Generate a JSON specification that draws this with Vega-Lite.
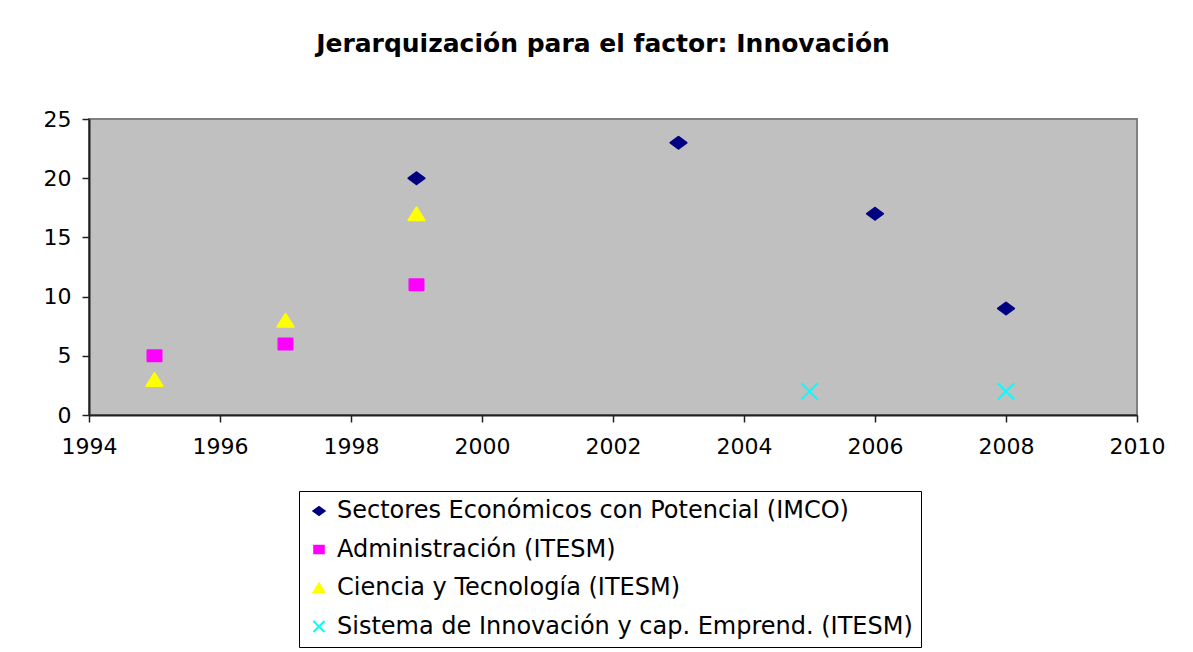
{
  "$schema": "https://vega.github.io/schema/vega-lite/v6.json",
  "width": 1048,
  "height": 296,
  "autosize": {"type": "none"},
  "padding": {"left": 89, "top": 119, "right": 56, "bottom": 237},
  "background": "white",
  "title": {
    "text": "Jerarquización para el factor: Innovación",
    "font": "DejaVu Sans",
    "fontSize": 25,
    "fontWeight": "bold",
    "color": "black",
    "anchor": "middle",
    "frame": "group",
    "dx": -10,
    "offset": 51
  },
  "data": {
    "values": [
      {"year": 1999, "rank": 20, "serie": "Sectores Económicos con Potencial (IMCO)"},
      {"year": 2003, "rank": 23, "serie": "Sectores Económicos con Potencial (IMCO)"},
      {"year": 2006, "rank": 17, "serie": "Sectores Económicos con Potencial (IMCO)"},
      {"year": 2008, "rank": 9, "serie": "Sectores Económicos con Potencial (IMCO)"},
      {"year": 1995, "rank": 5, "serie": "Administración (ITESM)"},
      {"year": 1997, "rank": 6, "serie": "Administración (ITESM)"},
      {"year": 1999, "rank": 11, "serie": "Administración (ITESM)"},
      {"year": 1995, "rank": 3, "serie": "Ciencia y Tecnología (ITESM)"},
      {"year": 1997, "rank": 8, "serie": "Ciencia y Tecnología (ITESM)"},
      {"year": 1999, "rank": 17, "serie": "Ciencia y Tecnología (ITESM)"},
      {"year": 2005, "rank": 2, "serie": "Sistema de Innovación y cap. Emprend. (ITESM)"},
      {"year": 2008, "rank": 2, "serie": "Sistema de Innovación y cap. Emprend. (ITESM)"}
    ]
  },
  "mark": {"type": "point", "filled": true, "opacity": 1, "size": 340, "strokeWidth": 2, "strokeJoin": "round"},
  "encoding": {
    "x": {
      "field": "year",
      "type": "quantitative",
      "scale": {"domain": [1994, 2010], "nice": false, "zero": false},
      "axis": {
        "title": null,
        "values": [1994, 1996, 1998, 2000, 2002, 2004, 2006, 2008, 2010],
        "format": "d",
        "grid": false,
        "domainColor": "#202020",
        "domainWidth": 2,
        "tickColor": "#202020",
        "tickWidth": 1.5,
        "tickSize": 7,
        "labelFont": "DejaVu Sans",
        "labelFontSize": 22,
        "labelColor": "black",
        "labelPadding": 14,
        "labelFlush": false
      }
    },
    "y": {
      "field": "rank",
      "type": "quantitative",
      "scale": {"domain": [0, 25], "nice": false},
      "axis": {
        "title": null,
        "values": [0, 5, 10, 15, 20, 25],
        "grid": false,
        "domainColor": "#202020",
        "domainWidth": 2,
        "tickColor": "#202020",
        "tickWidth": 1.5,
        "tickSize": 7,
        "labelFont": "DejaVu Sans",
        "labelFontSize": 22,
        "labelColor": "black",
        "labelPadding": 11
      }
    },
    "fill": {
      "field": "serie",
      "type": "nominal",
      "scale": {
        "domain": ["Sectores Económicos con Potencial (IMCO)", "Administración (ITESM)", "Ciencia y Tecnología (ITESM)", "Sistema de Innovación y cap. Emprend. (ITESM)"],
        "range": ["#000080", "#FF00FF", "#FFFF00", "#00FFFF"]
      },
      "legend": {
        "title": null,
        "orient": "none",
        "legendX": 210,
        "legendY": 372,
        "direction": "vertical",
        "labelFont": "DejaVu Sans",
        "labelFontSize": 24,
        "labelColor": "black",
        "labelLimit": 0,
        "labelOffset": 6,
        "symbolSize": 160,
        "symbolStrokeWidth": 2,
        "rowPadding": 14.5,
        "padding": 8,
        "strokeColor": "black",
        "fillColor": "white"
      }
    },
    "stroke": {
      "field": "serie",
      "type": "nominal",
      "scale": {
        "domain": ["Sectores Económicos con Potencial (IMCO)", "Administración (ITESM)", "Ciencia y Tecnología (ITESM)", "Sistema de Innovación y cap. Emprend. (ITESM)"],
        "range": ["#000080", "#FF00FF", "#FFFF00", "#00FFFF"]
      }
    },
    "shape": {
      "field": "serie",
      "type": "nominal",
      "scale": {
        "domain": ["Sectores Económicos con Potencial (IMCO)", "Administración (ITESM)", "Ciencia y Tecnología (ITESM)", "Sistema de Innovación y cap. Emprend. (ITESM)"],
        "range": [
          "M-0.88,0L0,-0.65L0.88,0L0,0.65Z",
          "M-0.76,-0.59H0.76V0.59H-0.76Z",
          "M0,-0.7L0.88,0.7L-0.88,0.7Z",
          "M-0.88,-0.88L0.88,0.88M0.88,-0.88L-0.88,0.88"
        ]
      }
    }
  },
  "config": {
    "view": {"fill": "#C0C0C0", "stroke": "#808080", "strokeWidth": 2}
  }
}
